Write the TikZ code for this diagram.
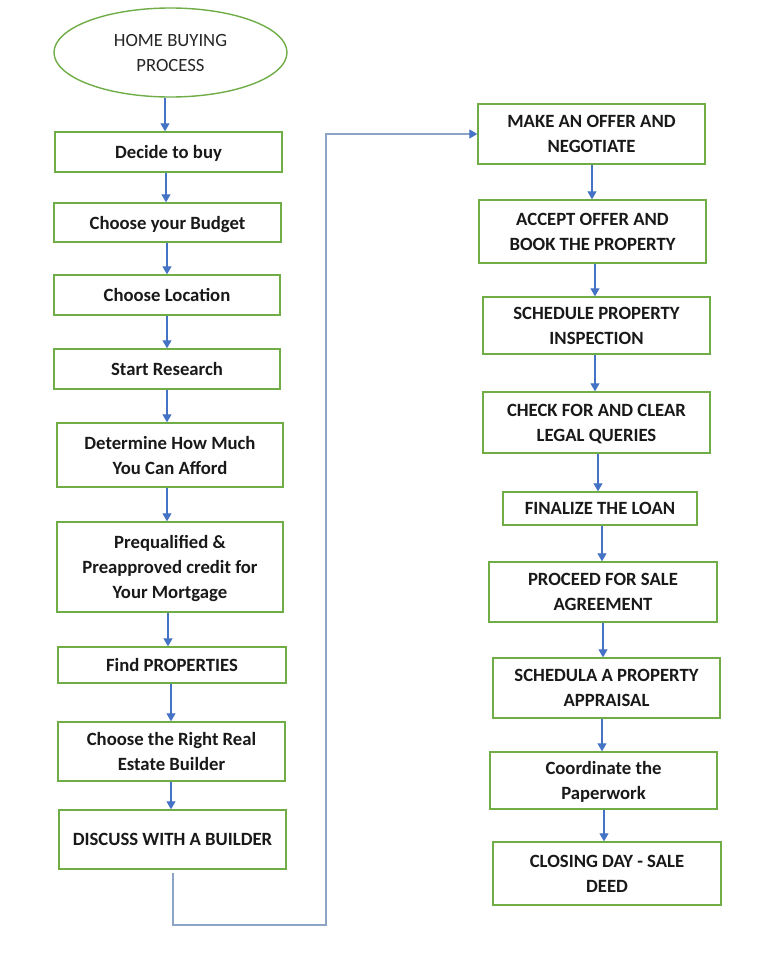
\documentclass[tikz,border=0pt]{standalone}
\usepackage{fontspec}
\setmainfont{Carlito}
\usetikzlibrary{arrows.meta,shapes.geometric}
\definecolor{boxgreen}{RGB}{112,173,71}
\definecolor{arrblue}{RGB}{68,114,196}
\definecolor{connblue}{RGB}{140,165,196}
\begin{document}
\begin{tikzpicture}[x=1pt,y=-1pt,
  box/.style={draw=boxgreen,line width=1.4pt,fill=white,inner sep=0pt,align=center,text depth=-3pt,
    font=\fontsize{18.7}{25}\selectfont\bfseries,text=black!90},
  startnode/.style={ellipse,draw=boxgreen,line width=1.4pt,inner sep=0pt,align=center,text depth=-3.5pt,
    font=\fontsize{18.7}{25}\selectfont,text=black!85},
  arr/.style={draw=arrblue,line width=1.1pt,-{Triangle[width=9pt,length=8pt]}},
  conn/.style={draw=connblue,line width=1.1pt},
  connarr/.style={conn,-{Triangle[width=9pt,length=8pt,color=arrblue]}}
]
\useasboundingbox (0,0) rectangle (768,956);
\fill[white] (0,0) rectangle (768,956);

% left column
\node[startnode,minimum width=233pt,minimum height=89pt] (e) at (170.5,52.5) {HOME BUYING\\PROCESS};
\node[box,minimum width=227pt,minimum height=40pt] (b1) at (168.5,152) {Decide to buy};
\node[box,minimum width=227pt,minimum height=39pt] (b2) at (167.5,222.5) {Choose your Budget};
\node[box,minimum width=226pt,minimum height=40pt] (b3) at (167,295) {Choose Location};
\node[box,minimum width=226pt,minimum height=40pt] (b4) at (167,369) {Start Research};
\node[box,minimum width=226pt,minimum height=64pt] (b5) at (170,455) {Determine How Much\\You Can Afford};
\node[box,minimum width=226pt,minimum height=90pt] (b6) at (170,567) {Prequalified \&\\Preapproved credit for\\Your Mortgage};
\node[box,minimum width=228pt,minimum height=36pt] (b7) at (172,665) {Find PROPERTIES};
\node[box,minimum width=227pt,minimum height=59pt] (b8) at (171.5,751.5) {Choose the Right Real\\Estate Builder};
\node[box,minimum width=227pt,minimum height=59pt] (b9) at (172.5,839.5) {DISCUSS WITH A BUILDER};

% right column
\node[box,minimum width=227pt,minimum height=60pt] (r1) at (591.5,134) {MAKE AN OFFER AND\\NEGOTIATE};
\node[box,minimum width=227pt,minimum height=63pt] (r2) at (592.5,231.5) {ACCEPT OFFER AND\\BOOK THE PROPERTY};
\node[box,minimum width=227pt,minimum height=57pt] (r3) at (596.5,325.5) {SCHEDULE PROPERTY\\INSPECTION};
\node[box,minimum width=227pt,minimum height=61pt] (r4) at (596.5,422.5) {CHECK FOR AND CLEAR\\LEGAL QUERIES};
\node[box,minimum width=194pt,minimum height=33pt] (r5) at (600,508.5) {FINALIZE THE LOAN};
\node[box,minimum width=228pt,minimum height=60pt] (r6) at (603,592) {PROCEED FOR SALE\\AGREEMENT};
\node[box,minimum width=227pt,minimum height=60pt] (r7) at (606.5,688) {SCHEDULA A PROPERTY\\APPRAISAL};
\node[box,minimum width=227pt,minimum height=57pt] (r8) at (603.5,780.5) {Coordinate the\\Paperwork};
\node[box,minimum width=228pt,minimum height=63pt] (r9) at (607,873.5) {CLOSING DAY - SALE\\DEED};

% left arrows
\draw[arr] ([xshift=-5.5pt]e.south) -- ([xshift=-5.5pt]e.south |- b1.north);
\draw[arr] ([xshift=-2.5pt]b1.south) -- ([xshift=-2.5pt]b1.south |- b2.north);
\draw[arr] ([xshift=-0.5pt]b2.south) -- ([xshift=-0.5pt]b2.south |- b3.north);
\draw[arr] (b3.south) -- (b3.south |- b4.north);
\draw[arr] (b4.south) -- (b4.south |- b5.north);
\draw[arr] ([xshift=-3pt]b5.south) -- ([xshift=-3pt]b5.south |- b6.north);
\draw[arr] ([xshift=-2pt]b6.south) -- ([xshift=-2pt]b6.south |- b7.north);
\draw[arr] ([xshift=-1pt]b7.south) -- ([xshift=-1pt]b7.south |- b8.north);
\draw[arr] ([xshift=-0.5pt]b8.south) -- ([xshift=-0.5pt]b8.south |- b9.north);

% right arrows
\draw[arr] ([xshift=0.5pt]r1.south) -- ([xshift=0.5pt]r1.south |- r2.north);
\draw[arr] ([xshift=2.5pt]r2.south) -- ([xshift=2.5pt]r2.south |- r3.north);
\draw[arr] ([xshift=-1.5pt]r3.south) -- ([xshift=-1.5pt]r3.south |- r4.north);
\draw[arr] ([xshift=1.5pt]r4.south) -- ([xshift=1.5pt]r4.south |- r5.north);
\draw[arr] ([xshift=2pt]r5.south) -- ([xshift=2pt]r5.south |- r6.north);
\draw[arr] (r6.south) -- (r6.south |- r7.north);
\draw[arr] ([xshift=-4.5pt]r7.south) -- ([xshift=-4.5pt]r7.south |- r8.north);
\draw[arr] ([xshift=0.5pt]r8.south) -- ([xshift=0.5pt]r8.south |- r9.north);

% long connector
\coordinate (c0) at (173,873);
\coordinate (c1) at (326,925);
\draw[connarr] (c0) |- (c1) |- (r1.west);
\end{tikzpicture}
\end{document}
